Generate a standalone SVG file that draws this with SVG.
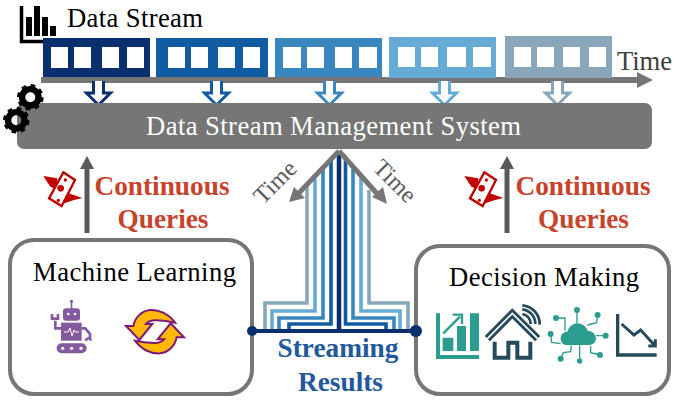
<svg xmlns="http://www.w3.org/2000/svg" xmlns:xlink="http://www.w3.org/1999/xlink" width="678" height="401" viewBox="0 0 678 401">
<style>
text{font-family:"Liberation Serif","Times New Roman",serif}
.t{font-size:26.67px;fill:#000}
.q{font-size:27.3px;font-weight:bold;fill:#c8432b;text-anchor:middle}
.s{font-size:27.3px;font-weight:bold;fill:#22599b;text-anchor:middle}
.sq{fill:#fff}
.hol{fill:#fff;stroke-width:3}
.st{fill:none;stroke-width:3.6}
.teal{fill:#2a9d8f}
.tl{fill:none;stroke:#2a9d8f;stroke-width:4}
.dk{fill:none;stroke:#264a5c}
.box{fill:#fff;stroke:#767676;stroke-width:4}
</style>
<defs>
<path id="hollow" d="M-5-12V0H-12L0 12 12 0H5V-12"/>
<g id="gear" fill="none" stroke="#000">
<circle r="8.2" stroke-width="6.4"/>
<circle r="11.8" stroke-width="3" stroke-dasharray="4.63 4.63"/>
</g>
<g id="money">
<path d="M10 33 52 40 50 76 30 64 22 52Z" fill="#c00000"/>
<path d="M78 82 127 99 102 105 68 116Z" fill="#c00000"/>
<path d="M70 22 105 45 65 123 27 100Z" fill="#fff" stroke="#c00000" stroke-width="7"/>
<circle cx="62" cy="70" r="10" fill="#c00000"/>
<circle cx="76" cy="45" r="5" fill="#c00000"/>
<circle cx="55" cy="106" r="5" fill="#c00000"/>
</g>
<g id="uparrow">
<path d="M-2.500 77V12H2.500V77Z" fill="#595959"/>
<path d="M0 0 7 13H-7Z" fill="#595959"/>
</g>
</defs>

<g id="connectors">
<path d="M41 77H637V72L653 80 637 88V83H41Z" fill="#767676"/>
<g class="hol">
<use xlink:href="#hollow" x="98.500" y="93" stroke="#0a2f6f"/>
<use xlink:href="#hollow" x="216.500" y="93" stroke="#105ba2"/>
<use xlink:href="#hollow" x="329.500" y="93" stroke="#3a87bf"/>
<use xlink:href="#hollow" x="444.500" y="93" stroke="#65abd6"/>
<use xlink:href="#hollow" x="557.500" y="93" stroke="#8aa6ba"/>
</g>
<use xlink:href="#uparrow" x="87" y="156"/>
<use xlink:href="#uparrow" x="507" y="156"/>
<g class="st">
<path stroke="#8aa6ba" d="M265 331V303H307V183M408 331V303H369V190"/>
<path stroke="#65abd6" d="M272 331V311H315V179M400 331V311H361V178"/>
<path stroke="#3a87bf" d="M279 331V318H323V168M394 331V318H353V168"/>
<path stroke="#105ba2" d="M289 331V324H331V160M386 331V324H345.500V157"/>
</g>
<path d="M339 152V331" stroke="#0a2f6f" stroke-width="4.500" fill="none"/>
<path d="M252 331H416" stroke="#0a2f6f" stroke-width="4" fill="none"/>
<circle cx="252" cy="331" r="5" fill="#0a2f6f"/>
<circle cx="416" cy="331" r="6" fill="#0a2f6f"/>
<path d="M339 151 297 195M339 151 380 197" stroke="#767676" stroke-width="5" fill="none"/>
<path d="M289 202 294 187 305 198ZM387 204 372 197 383 187Z" fill="#767676"/>
</g>

<g id="stream-icon">
<path d="M21.500 6V41.500H56" fill="none" stroke="#000" stroke-width="3.500"/>
<path d="M26 17h6V36h-6ZM34 6h6V36h-6ZM42 17h6V36h-6ZM50 26h6V36h-6Z"/>
</g>
<text class="t" x="67" y="27" textLength="136">Data Stream</text>

<g id="stream-block-1">
<rect x="43" y="38" width="107" height="39" fill="#0a2f6f"/>
<path class="sq" d="M51 47h17v21h-17ZM74 47h17v21h-17ZM102 47h17v21h-17ZM127 47h17v21h-17Z"/>
</g>
<g id="stream-block-2">
<rect x="156" y="38" width="112" height="39" fill="#105ba2"/>
<path class="sq" d="M168 47h17v21h-17ZM191 47h17v21h-17ZM218 47h17v21h-17ZM243 47h17v21h-17Z"/>
</g>
<g id="stream-block-3">
<rect x="275" y="38" width="107" height="39" fill="#3a87bf"/>
<path class="sq" d="M283 47h18v21h-18ZM307 47h17v21h-17ZM335 47h17v21h-17ZM359 47h18v21h-18Z"/>
</g>
<g id="stream-block-4">
<rect x="389" y="37" width="107" height="41" fill="#65abd6"/>
<path class="sq" d="M398 47h17v20h-17ZM421 47h17v20h-17ZM447 47h19v20h-19ZM473 47h18v20h-18Z"/>
</g>
<g id="stream-block-5">
<rect x="505" y="36" width="107" height="42" fill="#8aa6ba"/>
<path class="sq" d="M514 47h17v20h-17ZM537 47h17v20h-17ZM563 47h17v20h-17ZM589 47h17v20h-17Z"/>
</g>
<text x="617" y="70" font-size="26.670" fill="#404040" textLength="55">Time</text>

<g id="dsms">
<rect x="17" y="103" width="635" height="46" rx="7" fill="#767676"/>
<text x="146" y="135" font-size="26.670" fill="#fff" textLength="375">Data Stream Management System</text>
<use xlink:href="#gear" x="30.300" y="97.300"/>
<use xlink:href="#gear" x="16.300" y="120.300"/>
</g>

<text transform="translate(275 182) rotate(-45)" x="0" y="8" font-size="24" fill="#595959" text-anchor="middle">Time</text>
<text transform="translate(395 181) rotate(45)" x="0" y="8" font-size="24" fill="#595959" text-anchor="middle">Time</text>

<g id="queries-left">
<use xlink:href="#money" transform="translate(40 165) scale(.3333)"/>
<text class="q" x="162" y="195">Continuous</text>
<text class="q" x="163" y="228">Queries</text>
</g>
<g id="queries-right">
<use xlink:href="#money" transform="translate(461 165) scale(.3333)"/>
<text class="q" x="583" y="195">Continuous</text>
<text class="q" x="583.500" y="228">Queries</text>
</g>

<g id="machine-learning">
<rect class="box" x="10" y="240" width="242" height="154" rx="24"/>
<circle cx="252" cy="331" r="5" fill="#0a2f6f"/>
<text class="t" x="33" y="281" textLength="203">Machine Learning</text>
<g transform="translate(40 300) scale(.3333)">
<g fill="#845a9e">
<rect x="90" y="0" width="9" height="8" rx="3"/>
<rect x="92" y="5" width="5" height="22"/>
<rect x="69" y="25" width="51" height="37" rx="9"/>
<rect x="63" y="68" width="62" height="54"/>
<rect x="50" y="130" width="90" height="30" rx="15"/>
</g>
<g fill="none" stroke="#845a9e" stroke-width="8">
<path d="M63 85H46V62M36 42V56H54V42"/>
<path d="M125 85H136L150 102V118M136 122Q150 106 152 122"/>
</g>
<g fill="#fff">
<circle cx="85" cy="42" r="4"/><circle cx="105" cy="42" r="4"/>
<circle cx="68" cy="145" r="5"/><circle cx="95" cy="145" r="5"/><circle cx="123" cy="145" r="5"/>
</g>
<path d="M72 96H84L90 84 96 108 102 90 106 96H117" fill="none" stroke="#fff" stroke-width="3"/>
<g fill="#ffb900" stroke="#7b1a78" stroke-width="6" stroke-linejoin="miter">
<path d="M405 68C385 40 355 28 330 30C305 33 285 52 280 78H258L298 120 337 72H318C325 64 335 60 350 61C370 62 385 64 405 68Z"/>
<path d="M285 122C305 150 335 162 360 160C385 157 405 138 410 112H432L392 70 353 118H372C365 126 355 130 340 129C320 128 305 126 285 122Z"/>
</g>
</g>
</g>

<g id="decision-making">
<rect class="box" x="416" y="246" width="253" height="148" rx="24"/>
<circle cx="416" cy="331" r="6" fill="#0a2f6f"/>
<text class="t" x="449" y="286" textLength="190">Decision Making</text>
<g transform="translate(430 300) scale(.3333)">
<path class="teal" d="M18 40H30V165H147V177H18ZM38 113H70V153H38ZM81 78H108V153H81ZM120 40H147V153H120Z"/>
<path d="M40 100 90 50M68 44H96V72" fill="none" stroke="#2a9d8f" stroke-width="7"/>
<path class="dk" d="M172 116 247 40 323 116" stroke-width="22"/>
<path d="M172 116 247 40 323 116" fill="none" stroke="#fff" stroke-width="5"/>
<path class="dk" d="M194 125V173H235V128H262V173H301V125" stroke-width="12"/>
<path class="dk" d="M277 42A30 30 0 0 1 302 72M277 28A44 44 0 0 1 316 72M277 16A56 56 0 0 1 329 74" stroke-width="8"/>
<path class="teal" d="M392 115C392 100 405 95 412 95C418 78 430 70 442 70C458 70 470 82 473 92C488 92 498 104 498 115C498 128 488 135 478 135H408C398 135 392 125 392 115Z"/>
<g class="tl">
<path d="M441 30V70M503 45 500 68 472 75M527 107H498M510 165 482 158V138M449 183V136M392 176 400 158 422 155 424 136M362 102 365 127 392 131M378 54H405V92"/>
</g>
<g class="teal">
<circle cx="441" cy="30" r="9"/><circle cx="503" cy="45" r="9"/><circle cx="527" cy="107" r="9"/><circle cx="510" cy="165" r="9"/><circle cx="449" cy="183" r="8"/><circle cx="392" cy="176" r="9"/><circle cx="362" cy="102" r="9"/><circle cx="378" cy="54" r="9"/>
</g>
<path class="dk" d="M563 42V165H680" stroke-width="10"/>
<path class="dk" d="M575 72 612 105 632 90 675 137M676 118V138H655" stroke-width="9"/>
</g>
</g>

<g id="streaming-results">
<text class="s" x="338" y="357">Streaming</text>
<text class="s" x="340.500" y="391">Results</text>
</g>
</svg>
